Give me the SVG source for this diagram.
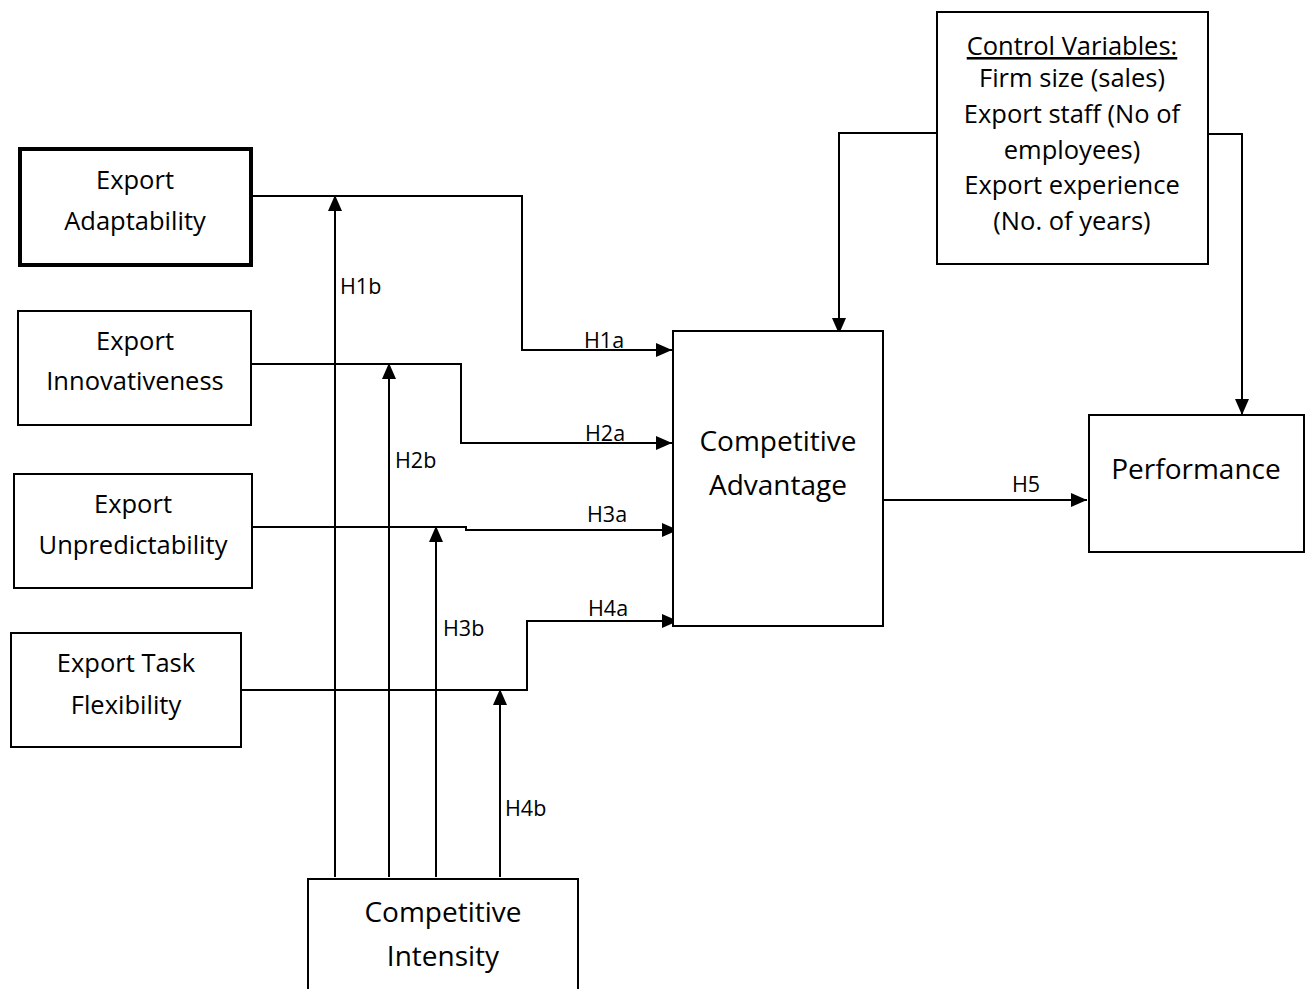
<svg xmlns="http://www.w3.org/2000/svg" width="1308" height="989" viewBox="0 0 1308 989">
<defs>
<marker id="ah" viewBox="0 0 16 14" refX="16" refY="7" markerWidth="16" markerHeight="14" markerUnits="userSpaceOnUse" orient="auto">
<path d="M0,0 L16,7 L0,14 Z" fill="#000"/>
</marker>
<style>
.box{fill:#fff;stroke:#000;stroke-width:2}
.thick{stroke-width:4}
.t{font-family:"Open Sans","Noto Sans",sans-serif;font-size:25.5px;fill:#000;text-anchor:middle}
.big{font-size:28px}
.lbl{font-family:"Open Sans","Noto Sans",sans-serif;font-size:21.5px;fill:#000}
.c{fill:none;stroke:#000;stroke-width:2}
</style>
</defs>
<rect width="1308" height="989" fill="#fff"/>
<g id="connectors">
<polyline class="c" points="251,196 522,196 522,350 672,350" marker-end="url(#ah)"/>
<polyline class="c" points="251,364 461,364 461,443 672,443" marker-end="url(#ah)"/>
<polyline class="c" points="252,527 466,527 466,530 678,530" marker-end="url(#ah)"/>
<polyline class="c" points="241,690 527,690 527,621 678,621" marker-end="url(#ah)"/>
<line class="c" x1="335" y1="877" x2="335" y2="195" marker-end="url(#ah)"/>
<line class="c" x1="389" y1="877" x2="389" y2="363" marker-end="url(#ah)"/>
<line class="c" x1="436" y1="877" x2="436" y2="526" marker-end="url(#ah)"/>
<line class="c" x1="500" y1="877" x2="500" y2="689" marker-end="url(#ah)"/>
<line class="c" x1="883" y1="500" x2="1087" y2="500" marker-end="url(#ah)"/>
<polyline class="c" points="937,133 839,133 839,334" marker-end="url(#ah)"/>
<polyline class="c" points="1208,134 1242,134 1242,415" marker-end="url(#ah)"/>
<text class="lbl" x="584" y="348">H1a</text>
<text class="lbl" x="340" y="294">H1b</text>
<text class="lbl" x="585" y="441">H2a</text>
<text class="lbl" x="395" y="468">H2b</text>
<text class="lbl" x="587" y="522">H3a</text>
<text class="lbl" x="443" y="636">H3b</text>
<text class="lbl" x="588" y="616">H4a</text>
<text class="lbl" x="505" y="816">H4b</text>
<text class="lbl" x="1012" y="492">H5</text>
</g>
<g id="export-adaptability">
<rect class="box thick" x="20" y="149" width="231" height="116"/>
<text class="t" x="135" y="189">Export</text>
<text class="t" x="135" y="230">Adaptability</text>
</g>
<g id="export-innovativeness">
<rect class="box" x="18" y="311" width="233" height="114"/>
<text class="t" x="135" y="350">Export</text>
<text class="t" x="135" y="390">Innovativeness</text>
</g>
<g id="export-unpredictability">
<rect class="box" x="14" y="474" width="238" height="114"/>
<text class="t" x="133" y="513">Export</text>
<text class="t" x="133" y="554">Unpredictability</text>
</g>
<g id="export-task-flexibility">
<rect class="box" x="11" y="633" width="230" height="114"/>
<text class="t" x="126" y="672">Export Task</text>
<text class="t" x="126" y="714">Flexibility</text>
</g>
<g id="competitive-intensity">
<rect class="box" x="308" y="879" width="270" height="120"/>
<text class="t big" x="443" y="922">Competitive</text>
<text class="t big" x="443" y="966">Intensity</text>
</g>
<g id="competitive-advantage">
<rect class="box" x="673" y="331" width="210" height="295"/>
<text class="t big" x="778" y="451">Competitive</text>
<text class="t big" x="778" y="495">Advantage</text>
</g>
<g id="performance">
<rect class="box" x="1089" y="415" width="215" height="137"/>
<text class="t big" x="1196" y="479">Performance</text>
</g>
<g id="control-variables">
<rect class="box" x="937" y="12" width="271" height="252"/>
<text class="t" x="1072" y="55" text-decoration="underline">Control Variables:</text>
<text class="t" x="1072" y="87">Firm size (sales)</text>
<text class="t" x="1072" y="123">Export staff (No of</text>
<text class="t" x="1072" y="159">employees)</text>
<text class="t" x="1072" y="194">Export experience</text>
<text class="t" x="1072" y="230">(No. of years)</text>
</g>
</svg>
